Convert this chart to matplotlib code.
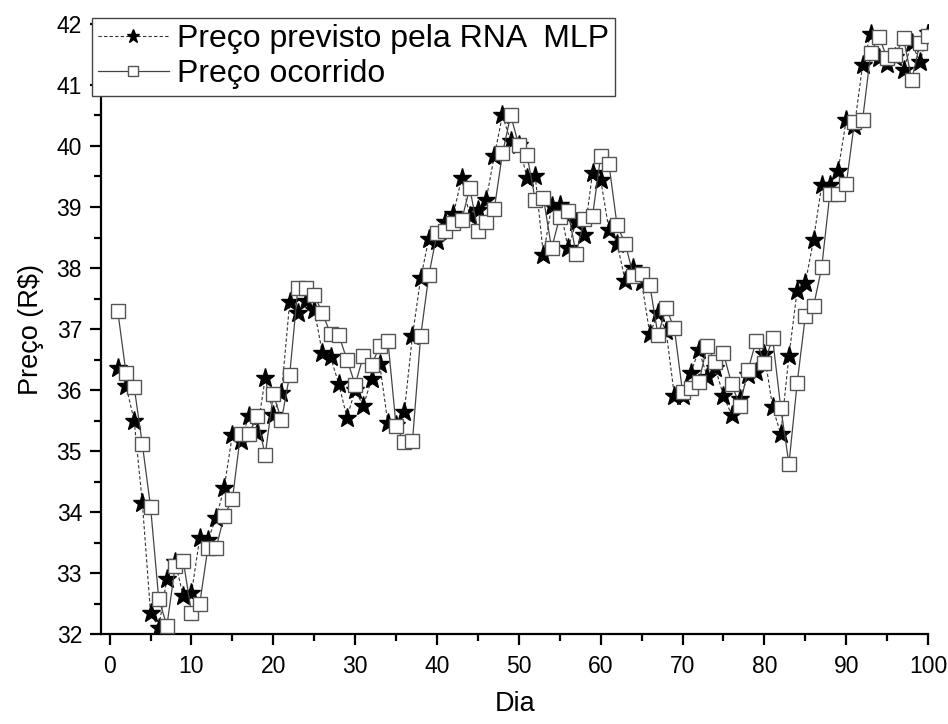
import numpy as np
import matplotlib
matplotlib.use('Agg')
import matplotlib.pyplot as plt
from matplotlib.ticker import MultipleLocator

plt.rcParams['font.family'] = ['Liberation Sans', 'DejaVu Sans']

dias = list(range(1, 101))

# preco previsto pela rede (estrelas)
previsto = [36.36, 36.07, 35.50, 34.15, 32.35, 32.11, 32.91, 33.19, 32.62, 32.67,
            33.57, 33.54, 33.90, 34.40, 35.27, 35.16, 35.57, 35.30, 36.19, 35.60,
            35.95, 37.44, 37.26, 37.46, 37.32, 36.60, 36.54, 36.10, 35.55, 36.00,
            35.74, 36.18, 36.42, 35.46, 35.42, 35.64, 36.89, 37.83, 38.48, 38.44,
            38.75, 38.88, 39.47, 38.85, 38.95, 39.11, 39.84, 40.50, 40.08, 40.02,
            39.48, 39.51, 38.21, 39.02, 39.04, 38.32, 38.75, 38.54, 39.56, 39.45,
            38.63, 38.40, 37.79, 38.00, 37.77, 36.92, 37.26, 36.96, 35.91, 35.91,
            36.28, 36.66, 36.22, 36.36, 35.91, 35.59, 35.85, 36.24, 36.29, 36.59,
            35.72, 35.28, 36.56, 37.63, 37.75, 38.46, 39.36, 39.36, 39.59, 40.43,
            40.32, 41.33, 41.84, 41.44, 41.35, 41.45, 41.25, 41.68, 41.38, 41.85]

# preco ocorrido (quadrados)
ocorrido = [37.29, 36.28, 36.05, 35.11, 34.09, 32.58, 32.14, 33.11, 33.20, 32.35,
            32.49, 33.41, 33.41, 33.94, 34.21, 35.28, 35.28, 35.57, 34.93, 35.93,
            35.51, 36.25, 37.67, 37.67, 37.56, 37.26, 36.92, 36.90, 36.50, 36.09,
            36.56, 36.41, 36.72, 36.81, 35.41, 35.15, 35.16, 36.88, 37.88, 38.57,
            38.61, 38.73, 38.78, 39.31, 38.61, 38.76, 38.97, 39.88, 40.50, 40.01,
            39.85, 39.12, 39.15, 38.32, 38.84, 38.93, 38.23, 38.81, 38.85, 39.84,
            39.71, 38.70, 38.40, 37.87, 37.90, 37.72, 36.90, 37.34, 37.01, 35.97,
            36.03, 36.13, 36.73, 36.46, 36.60, 36.10, 35.74, 36.33, 36.81, 36.44,
            36.85, 35.71, 34.79, 36.11, 37.21, 37.37, 38.01, 39.22, 39.22, 39.37,
            40.39, 40.43, 41.53, 41.79, 41.44, 41.49, 41.77, 41.08, 41.68, 41.80]

fig = plt.figure(figsize=(9.48, 7.24), dpi=100)
ax = fig.add_axes([0.107, 0.124, 0.872, 0.843])

ax.plot(dias, previsto, linestyle=(0, (3, 2)), color='#333333', linewidth=0.8,
        marker='*', markersize=14, markerfacecolor='black', markeredgecolor='black',
        label='Preço previsto pela RNA  MLP', zorder=2)
ax.plot(dias, ocorrido, linestyle='-', color='#444444', linewidth=0.9,
        marker='s', markersize=9.5, markerfacecolor='white', markeredgecolor='#555555',
        markeredgewidth=1.0, label='Preço ocorrido', zorder=3)

ax.set_xlim(-1, 100)
ax.set_ylim(32, 42)
ax.xaxis.set_major_locator(MultipleLocator(10))
ax.xaxis.set_minor_locator(MultipleLocator(5))
ax.yaxis.set_major_locator(MultipleLocator(1))
ax.yaxis.set_minor_locator(MultipleLocator(0.5))

for s in ['top', 'right']:
    ax.spines[s].set_visible(False)
for s in ['left', 'bottom']:
    ax.spines[s].set_linewidth(1.6)

ax.tick_params(which='major', direction='out', length=8, width=1.6, labelsize=16.5)
ax.tick_params(axis='x', which='major', pad=7)
ax.tick_params(axis='y', which='major', pad=6)
ax.tick_params(which='minor', direction='out', length=5, width=1.6)

ax.set_xlabel('Dia', fontsize=19.5, labelpad=9)
ax.set_ylabel('Preço (R$)', fontsize=19.5, labelpad=9)

leg = ax.legend(loc='upper left', bbox_to_anchor=(0.097, 0.975), bbox_transform=fig.transFigure,
                fontsize=23, frameon=True, fancybox=False, framealpha=1,
                edgecolor='#444444', borderpad=0.2, handlelength=2.2,
                handletextpad=0.25, labelspacing=0.15, borderaxespad=0, markerscale=0.7)
leg.get_frame().set_linewidth(1.0)

fig.savefig('out.png', dpi=100)
